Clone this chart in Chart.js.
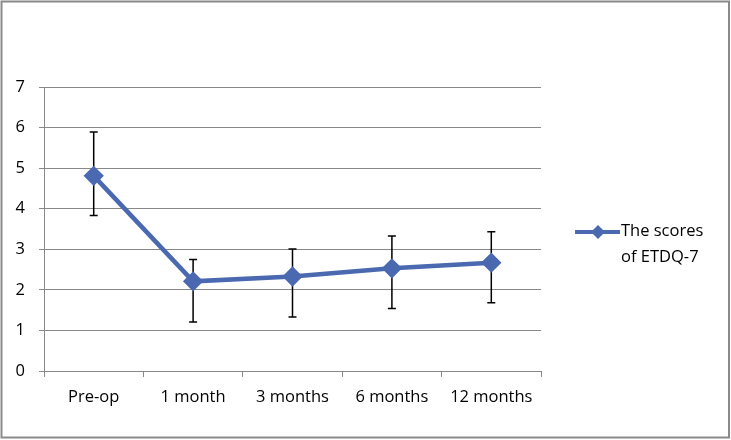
<!DOCTYPE html>
<html>
<head>
<meta charset="utf-8">
<script src="https://cdn.jsdelivr.net/npm/chart.js@4/dist/chart.umd.min.js"></script>
<style>
  body { margin: 0; background: #fff; }
</style>
</head>
<body>
<canvas id="grafico" width="731" height="440"></canvas>
<script>
const categorias = ["Pre-op", "1 month", "3 months", "6 months", "12 months"];
const scores = [4.81, 2.21, 2.33, 2.53, 2.67];
const erroMais = [1.08, 0.54, 0.68, 0.80, 0.76];
const erroMenos = [0.98, 1.00, 1.00, 0.99, 0.99];
const legendaLinhas = ["The scores", "of ETDQ-7"];
const yTicks = [0, 1, 2, 3, 4, 5, 6, 7];

const azul = "#4a69b1";
const fonte = "'Open Sans', sans-serif";

// barras de erro, desenhadas por baixo da linha
const errorBars = {
  id: "errorBars",
  beforeDatasetsDraw(chart) {
    const ctx = chart.ctx;
    const y = chart.scales.y;
    const meta = chart.getDatasetMeta(0);
    ctx.save();
    ctx.strokeStyle = "#000";
    ctx.lineWidth = 1.5;
    meta.data.forEach((pt, i) => {
      const top = y.getPixelForValue(scores[i] + erroMais[i]);
      const bot = y.getPixelForValue(scores[i] - erroMenos[i]);
      ctx.beginPath();
      ctx.moveTo(pt.x, top);
      ctx.lineTo(pt.x, bot);
      ctx.moveTo(pt.x - 4, top);
      ctx.lineTo(pt.x + 4, top);
      ctx.moveTo(pt.x - 4, bot);
      ctx.lineTo(pt.x + 4, bot);
      ctx.stroke();
    });
    ctx.restore();
  }
};

// moldura e legenda
const moldura = {
  id: "moldura",
  afterDraw(chart) {
    const ctx = chart.ctx;
    const area = chart.chartArea;
    ctx.save();
    ctx.strokeStyle = "#8a8a8a";
    ctx.lineWidth = 2;
    ctx.strokeRect(1.5, 1.5, 727.5, 436);

    const ly = (area.top + area.bottom) / 2 + 3;
    const lx = area.right + 34;
    ctx.strokeStyle = azul;
    ctx.lineWidth = 4;
    ctx.beginPath();
    ctx.moveTo(lx, ly);
    ctx.lineTo(lx + 45, ly);
    ctx.stroke();
    ctx.fillStyle = azul;
    ctx.beginPath();
    ctx.moveTo(lx + 23, ly - 7);
    ctx.lineTo(lx + 30, ly);
    ctx.lineTo(lx + 23, ly + 7);
    ctx.lineTo(lx + 16, ly);
    ctx.closePath();
    ctx.fill();

    ctx.fillStyle = "#000";
    ctx.font = "16.5px " + fonte;
    ctx.textBaseline = "middle";
    ctx.textAlign = "left";
    legendaLinhas.forEach((t, i) => {
      ctx.fillText(t, lx + 46, ly - 1 + i * 26);
    });
    ctx.restore();
  }
};

new Chart(document.getElementById("grafico").getContext("2d"), {
  type: "line",
  data: {
    labels: categorias,
    datasets: [{
      label: legendaLinhas.join(" "),
      data: scores,
      borderColor: azul,
      backgroundColor: azul,
      borderWidth: 4.5,
      pointStyle: "rectRot",
      pointRadius: 7,
      pointBackgroundColor: azul,
      pointBorderColor: azul,
      tension: 0
    }]
  },
  options: {
    responsive: false,
    animation: false,
    layout: { padding: { left: 0, top: 87, right: 190, bottom: 0 } },
    plugins: {
      legend: { display: false },
      tooltip: { enabled: false }
    },
    scales: {
      x: {
        offset: true,
        afterFit: s => { s.height = 69; },
        grid: { offset: true, drawOnChartArea: false, tickLength: 6, color: "#888" },
        border: { color: "#888" },
        ticks: { color: "#000", font: { family: fonte, size: 16.5 }, padding: 10, maxRotation: 0 }
      },
      y: {
        min: 0,
        max: 7,
        afterFit: s => { s.width = 44; },
        afterBuildTicks: s => { s.ticks = yTicks.map(v => ({ value: v })); },
        grid: { color: "#888", tickLength: 5 },
        border: { color: "#888" },
        ticks: { color: "#000", font: { family: fonte, size: 16.5 }, padding: 14 }
      }
    }
  },
  plugins: [errorBars, moldura]
});
</script>
</body>
</html>
